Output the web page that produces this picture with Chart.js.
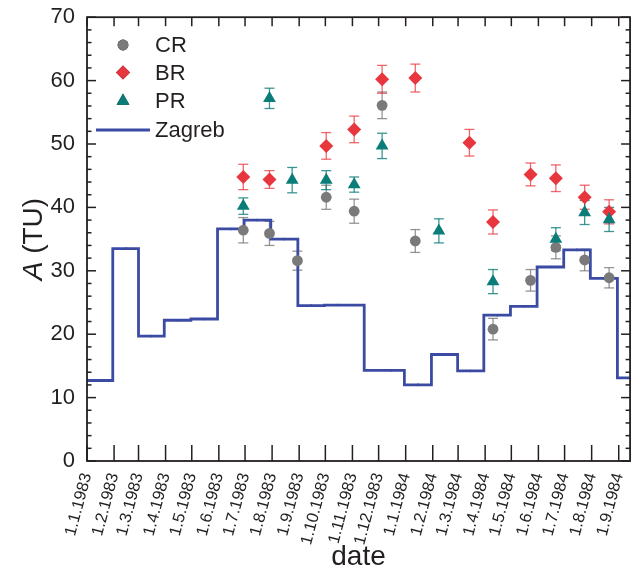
<!DOCTYPE html>
<html>
<head>
<meta charset="utf-8">
<style>
  html, body { margin: 0; padding: 0; background: #fff; }
  #wrap { width: 640px; height: 574px; }
</style>
<script src="https://cdn.jsdelivr.net/npm/chart.js@4/dist/chart.umd.min.js"></script>
</head>
<body>
<div id="wrap"><canvas id="chart" width="640" height="574"></canvas></div>
<script>
const FONT = "'Liberation Sans', Arial, sans-serif";
const INK = '#231f20';

// axis
const tickDates = ['1.1.1983', '1.2.1983', '1.3.1983', '1.4.1983', '1.5.1983', '1.6.1983', '1.7.1983',
  '1.8.1983', '1.9.1983', '1.10.1983', '1.11.1983', '1.12.1983', '1.1.1984', '1.2.1984', '1.3.1984',
  '1.4.1984', '1.5.1984', '1.6.1984', '1.7.1984', '1.8.1984', '1.9.1984'];
const axisStart = '1.1.1983';
const axisEnd = '14.9.1984';
const yMin = 0;
const yMax = 70;
const yStep = 10;
const yMinorStep = 2;

// Zagreb monthly values (no November 1983)
const zagrebDates = ['15.1.1983', '15.2.1983', '15.3.1983', '15.4.1983', '15.5.1983', '15.6.1983',
  '15.7.1983', '15.8.1983', '15.9.1983', '15.10.1983', '15.12.1983', '15.1.1984', '15.2.1984',
  '15.3.1984', '15.4.1984', '15.5.1984', '15.6.1984', '15.7.1984', '15.8.1984', '15.9.1984'];
const zagrebValues = [12.7, 33.5, 19.7, 22.2, 22.4, 36.6, 38.0, 35.0, 24.5, 24.6, 14.3, 12.0,
  16.8, 14.2, 23.0, 24.4, 30.6, 33.3, 28.8, 13.1];

// CR
const crDates = ['29.6.1983', '29.7.1983', '30.8.1983', '2.10.1983', '3.11.1983', '5.12.1983',
  '12.1.1984', '10.4.1984', '23.5.1984', '21.6.1984', '24.7.1984', '21.8.1984'];
const crValues = [36.4, 35.9, 31.6, 41.6, 39.4, 56.1, 34.7, 20.8, 28.5, 33.7, 31.7, 28.9];
const crErrors = [2.0, 1.9, 1.5, 1.9, 1.9, 2.1, 1.8, 1.7, 1.7, 1.8, 1.7, 1.6];

// BR
const brDates = ['29.6.1983', '29.7.1983', '2.10.1983', '3.11.1983', '5.12.1983', '12.1.1984',
  '14.3.1984', '10.4.1984', '23.5.1984', '21.6.1984', '24.7.1984', '21.8.1984'];
const brValues = [44.8, 44.4, 49.7, 52.3, 60.2, 60.4, 50.2, 37.7, 45.2, 44.6, 41.6, 39.3];
const brErrors = [2.0, 1.4, 2.1, 2.1, 2.2, 2.2, 2.1, 1.9, 1.8, 2.1, 1.9, 1.9];

// PR
const prDates = ['29.6.1983', '29.7.1983', '24.8.1983', '2.10.1983', '3.11.1983', '5.12.1983',
  '8.2.1984', '10.4.1984', '21.6.1984', '24.7.1984', '21.8.1984'];
const prValues = [40.2, 57.2, 44.3, 44.3, 43.6, 49.7, 36.3, 28.3, 35.0, 39.2, 38.1];
const prErrors = [1.3, 1.6, 2.0, 1.5, 1.2, 2.0, 1.9, 1.9, 1.8, 1.9, 1.9];

const crColor = '#7a7a7a';
const brColor = '#e8363e';
const prColor = '#0a7d79';
const zagrebColor = '#3b4ba3';

function day(s) {
  const [d, m, y] = s.split('.').map(Number);
  return Date.UTC(y, m - 1, d) / 86400000;
}

function points(dates, values) {
  return dates.map((d, i) => ({ x: day(d), y: values[i] }));
}

// step line starts at the left edge of the axis with the first month's value
const zagrebPoints = [{ x: day(axisStart), y: zagrebValues[0] }].concat(points(zagrebDates, zagrebValues));

const errorSets = [
  { dates: crDates, values: crValues, errors: crErrors, color: 'rgba(122,122,122,0.8)' },
  { dates: brDates, values: brValues, errors: brErrors, color: 'rgba(232,54,62,0.75)' },
  { dates: prDates, values: prValues, errors: prErrors, color: 'rgba(10,125,121,0.8)' },
];

function line(ctx, x1, y1, x2, y2) {
  ctx.beginPath();
  ctx.moveTo(x1, y1);
  ctx.lineTo(x2, y2);
  ctx.stroke();
}

const decorations = {
  id: 'decorations',
  beforeDatasetsDraw(chart) {
    const ctx = chart.ctx;
    const xs = chart.scales.x, ys = chart.scales.y;
    ctx.save();
    ctx.lineWidth = 1.3;
    errorSets.forEach(set => {
      ctx.strokeStyle = set.color;
      set.dates.forEach((d, i) => {
        const px = xs.getPixelForValue(day(d));
        const top = ys.getPixelForValue(set.values[i] + set.errors[i]);
        const bot = ys.getPixelForValue(set.values[i] - set.errors[i]);
        line(ctx, px, top, px, bot);
        line(ctx, px - 5, top, px + 5, top);
        line(ctx, px - 5, bot, px + 5, bot);
      });
    });
    ctx.restore();
  },
  afterDraw(chart) {
    const ctx = chart.ctx;
    const xs = chart.scales.x, ys = chart.scales.y;
    const { left, right, top, bottom } = chart.chartArea;
    ctx.save();

    // frame and inward ticks
    ctx.strokeStyle = INK;
    ctx.lineWidth = 1.5;
    xs.ticks.forEach(t => {
      const px = xs.getPixelForValue(t.value);
      line(ctx, px, bottom, px, bottom - 16);
      line(ctx, px, top, px, top + 9);
    });
    for (let v = yMin; v <= yMax; v += yMinorStep) {
      const py = ys.getPixelForValue(v);
      const len = v % yStep === 0 ? 9 : 4.5;
      line(ctx, left, py, left + len, py);
      line(ctx, right, py, right - len, py);
    }
    ctx.lineWidth = 1.8;
    ctx.strokeRect(left, top, right - left, bottom - top);

    // y title with italic A
    ctx.translate(34, (top + bottom) / 2);
    ctx.rotate(-Math.PI / 2);
    ctx.fillStyle = INK;
    ctx.textBaseline = 'middle';
    ctx.textAlign = 'left';
    ctx.font = 'italic 28px ' + FONT;
    const wA = ctx.measureText('A').width;
    ctx.font = '28px ' + FONT;
    const wRest = ctx.measureText(' (TU)').width;
    const start = -(wA + wRest) / 2;
    ctx.font = 'italic 28px ' + FONT;
    ctx.fillText('A', start, 0);
    ctx.font = '28px ' + FONT;
    ctx.fillText(' (TU)', start + wA, 0);
    ctx.restore();

    // legend
    ctx.save();
    const rows = [45, 72.5, 101, 130];
    ctx.font = '22px ' + FONT;
    ctx.textBaseline = 'middle';
    ctx.textAlign = 'left';
    chart.data.datasets.forEach((ds, i) => {
      const y = rows[i];
      if (ds.showLine) {
        ctx.strokeStyle = ds.borderColor;
        ctx.lineWidth = 2.8;
        line(ctx, 96, y, 150, y);
      } else {
        Chart.helpers.drawPoint(ctx, {
          pointStyle: ds.pointStyle, radius: ds.pointRadius, rotation: 0, borderWidth: 0
        }, 123, y);
        ctx.fillStyle = ds.backgroundColor;
        ctx.fill();
      }
      ctx.fillStyle = INK;
      ctx.fillText(ds.label, 155, y + 1);
    });
    ctx.restore();
  }
};

new Chart(document.getElementById('chart'), {
  type: 'scatter',
  data: {
    datasets: [
      {
        label: 'CR', data: points(crDates, crValues), showLine: false,
        pointStyle: 'circle', pointRadius: 5.4, backgroundColor: crColor, borderWidth: 0, order: 3
      },
      {
        label: 'BR', data: points(brDates, brValues), showLine: false,
        pointStyle: 'rectRot', pointRadius: 7, backgroundColor: brColor, borderWidth: 0, order: 2
      },
      {
        label: 'PR', data: points(prDates, prValues), showLine: false,
        pointStyle: 'triangle', pointRadius: 7.4, backgroundColor: prColor, borderWidth: 0, order: 1
      },
      {
        label: 'Zagreb', data: zagrebPoints, showLine: true, stepped: 'middle',
        borderColor: zagrebColor, borderWidth: 2.8, backgroundColor: zagrebColor,
        pointRadius: ctx => ctx.dataIndex === 0 ? 0 : 1.3, pointBorderWidth: 0, order: 4
      }
    ]
  },
  options: {
    responsive: false,
    animation: false,
    events: [],
    layout: { padding: { left: 0, right: 7, top: 17, bottom: 0 } },
    plugins: { legend: { display: false }, tooltip: { enabled: false } },
    scales: {
      x: {
        type: 'linear',
        min: day(axisStart),
        max: day(axisEnd),
        grid: { display: false },
        border: { display: false },
        afterBuildTicks: scale => {
          scale.ticks = tickDates.map(d => ({ value: day(d) }));
        },
        afterFit: scale => { scale.height = 113; },
        ticks: {
          autoSkip: false,
          minRotation: 75,
          maxRotation: 75,
          padding: 2,
          color: INK,
          font: { family: FONT, size: 16.5 },
          callback: (value, index) => tickDates[index]
        },
        title: {
          display: true,
          text: 'date',
          color: INK,
          font: { family: FONT, size: 28 },
          padding: { top: 0, bottom: 0 }
        }
      },
      y: {
        min: yMin,
        max: yMax,
        grid: { display: false },
        border: { display: false },
        afterFit: scale => { scale.width = 87; },
        ticks: {
          stepSize: yStep,
          padding: 4,
          color: INK,
          font: { family: FONT, size: 22 }
        }
      }
    }
  },
  plugins: [decorations]
});
</script>
</body>
</html>
